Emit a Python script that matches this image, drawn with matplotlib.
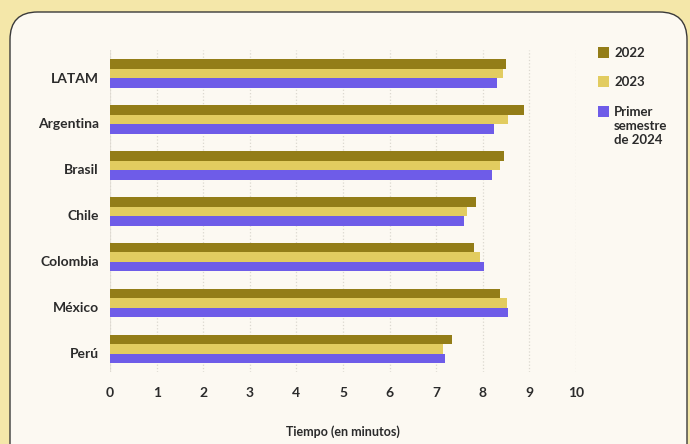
import numpy as np
import matplotlib.pyplot as plt
from matplotlib.patches import FancyBboxPatch, Rectangle
from matplotlib.transforms import ScaledTranslation

plt.rcParams['font.family'] = ['Lato', 'DejaVu Sans']

paises = ['LATAM', 'Argentina', 'Brasil', 'Chile', 'Colombia', 'México', 'Perú']
series = ['2022', '2023', 'Primer\nsemestre\nde 2024']
v2022 = [8.50, 8.88, 8.45, 7.85, 7.81, 8.37, 7.34]
v2023 = [8.43, 8.54, 8.37, 7.66, 7.94, 8.52, 7.15]
v2024 = [8.30, 8.24, 8.20, 7.60, 8.03, 8.54, 7.19]
colores = ['#937d18', '#e2cc60', '#6e5ce8']

fig = plt.figure(figsize=(6.9, 4.44), dpi=100)
fig.patch.set_facecolor('#f4e7a9')

# panel claro con esquinas redondeadas
panel = FancyBboxPatch((10 / 690, -0.1), 677 / 690, 1.1 - 12 / 444,
                       boxstyle='round,pad=0,rounding_size=0.04',
                       transform=fig.transFigure, facecolor='#fcf9f2',
                       edgecolor='#3a3a3a', linewidth=1.0, mutation_aspect=690 / 444,
                       zorder=-5)
fig.patches.append(panel)

ax = fig.add_axes([110 / 690, 1 - 372 / 444, 466 / 690, 322 / 444])
ax.set_facecolor('none')

y = np.arange(len(paises))
h = 0.207
for i, vals in enumerate([v2022, v2023, v2024]):
    ax.barh(y + (i - 1) * h, vals, height=h, color=colores[i], zorder=3)

ax.set_xlim(0, 10)
ax.set_ylim(6.5, -0.512)
ax.set_xticks(range(0, 11))
ax.set_yticks(y)
ax.set_yticklabels(paises)
ax.tick_params(axis='both', length=0, labelsize=10, colors='#2b2b2b')
ax.tick_params(axis='x', pad=11)
ax.tick_params(axis='y', pad=8)
desplaza = ScaledTranslation(0, -4 / 100, fig.dpi_scale_trans)
for lab in ax.get_yticklabels():
    lab.set_transform(lab.get_transform() + desplaza)
for lab in ax.get_xticklabels() + ax.get_yticklabels():
    lab.set_fontweight('bold')
ax.grid(axis='x', color='#dcd8cf', linestyle=':', linewidth=0.9, zorder=0)
for s in ax.spines.values():
    s.set_visible(False)
ax.axvline(0, color='#e6e2da', linewidth=0.8, zorder=1)
ax.set_xlabel('Tiempo (en minutos)', fontsize=9, fontweight='bold',
              color='#2b2b2b', labelpad=19)

# leyenda
ys = [53, 82, 112]
for c, lab, yy in zip(colores, series, ys):
    fig.patches.append(Rectangle((598 / 690, 1 - (yy + 5) / 444), 11 / 690, 11 / 444,
                                 transform=fig.transFigure, facecolor=c, edgecolor='none'))
    fig.text(614 / 690, 1 - (yy - 6) / 444, lab, fontsize=9.5, fontweight='bold',
             color='#2b2b2b', va='top', ha='left', linespacing=1.2)

fig.savefig('out.png', dpi=100, facecolor=fig.get_facecolor())
